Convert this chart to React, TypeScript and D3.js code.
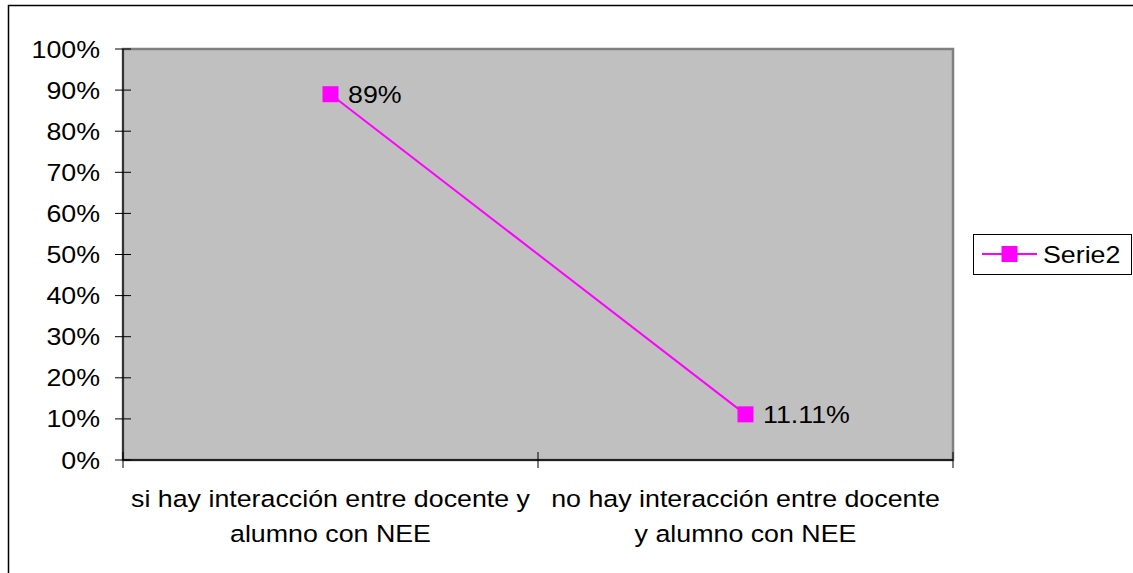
import React from "react";
import * as d3 from "d3";

// Chart data
const categories: string[][] = [
  ["si hay interacción entre docente y", "alumno con NEE"],
  ["no hay interacción entre docente", "y alumno con NEE"],
];
const serieName = "Serie2";
const serieValues: number[] = [0.89, 0.1111];
const valueLabels: string[] = ["89%", "11.11%"];
const yTicks: number[] = [0, 0.1, 0.2, 0.3, 0.4, 0.5, 0.6, 0.7, 0.8, 0.9, 1.0];

const W = 1133;
const H = 573;
const plot = { left: 123, right: 953, top: 49, bottom: 460 };
const FONT = "'Liberation Sans', Arial, Helvetica, sans-serif";
const FS = 23.5;
const SX = 1.14;
const MAGENTA = "#FF00FF";

function Label(props: {
  x: number;
  y: number;
  anchor?: "start" | "middle" | "end";
  children: React.ReactNode;
}) {
  const { x, y, anchor = "start", children } = props;
  return (
    <g transform={`translate(${x},${y}) scale(${SX},1)`}>
      <text
        x={0}
        y={0}
        textAnchor={anchor}
        fontFamily={FONT}
        fontSize={FS}
        fill="#000"
      >
        {children}
      </text>
    </g>
  );
}

export default function App() {
  const x = d3
    .scaleBand<number>()
    .domain(categories.map((_, i) => i))
    .range([plot.left, plot.right]);
  const y = d3.scaleLinear().domain([0, 1]).range([plot.bottom, plot.top]);
  const cx = (i: number) => (x(i) as number) + x.bandwidth() / 2;

  const line = d3
    .line<number>()
    .x((_, i) => cx(i))
    .y((d) => y(d));

  const pct = d3.format(".0%");
  const bandEdges = [...categories.map((_, i) => x(i) as number), plot.right];
  const mk = 16;

  return (
    <svg
      width={W}
      height={H}
      style={{ position: "fixed", left: 0, top: 0, background: "#fff" }}
    >
      {/* chart frame */}
      <rect x={8.5} y={5.5} width={W + 20} height={H + 20} fill="#fff" stroke="#000" strokeWidth={1.5} />

      {/* plot area */}
      <rect
        x={plot.left}
        y={plot.top}
        width={plot.right - plot.left}
        height={plot.bottom - plot.top}
        fill="#C0C0C0"
        stroke="#808080"
        strokeWidth={2.5}
      />

      {/* y axis */}
      <line x1={plot.left} x2={plot.left} y1={plot.top} y2={plot.bottom} stroke="#000" strokeWidth={1.2} />
      {yTicks.map((t) => (
        <g key={t}>
          <line x1={plot.left - 8} x2={plot.left + 8} y1={y(t)} y2={y(t)} stroke="#000" strokeWidth={1} />
          <Label x={100} y={y(t) + 8.5} anchor="end">
            {pct(t)}
          </Label>
        </g>
      ))}

      {/* x axis */}
      <line x1={plot.left} x2={plot.right} y1={plot.bottom} y2={plot.bottom} stroke="#000" strokeWidth={1.5} />
      {bandEdges.map((e, i) => (
        <line key={i} x1={e} x2={e} y1={plot.bottom - 8} y2={plot.bottom + 8} stroke="#000" strokeWidth={1} />
      ))}
      {categories.map((lines, i) =>
        lines.map((s, j) => (
          <Label key={`${i}-${j}`} x={cx(i)} y={507 + j * 35} anchor="middle">
            {s}
          </Label>
        ))
      )}

      {/* series */}
      <path d={line(serieValues) || ""} fill="none" stroke={MAGENTA} strokeWidth={2} />
      {serieValues.map((v, i) => (
        <g key={i}>
          <rect x={cx(i) - mk / 2} y={y(v) - mk / 2} width={mk} height={mk} fill={MAGENTA} />
          <Label x={cx(i) + 17.5} y={y(v) + 8.5}>
            {valueLabels[i]}
          </Label>
        </g>
      ))}

      {/* legend */}
      <rect x={973.5} y={234.5} width={158} height={40} fill="#fff" stroke="#000" strokeWidth={1} />
      <line x1={982} x2={1037} y1={254} y2={254} stroke={MAGENTA} strokeWidth={2} />
      <rect x={1009.5 - mk / 2} y={254 - mk / 2} width={mk} height={mk} fill={MAGENTA} />
      <Label x={1043} y={263}>
        {serieName}
      </Label>
    </svg>
  );
}
